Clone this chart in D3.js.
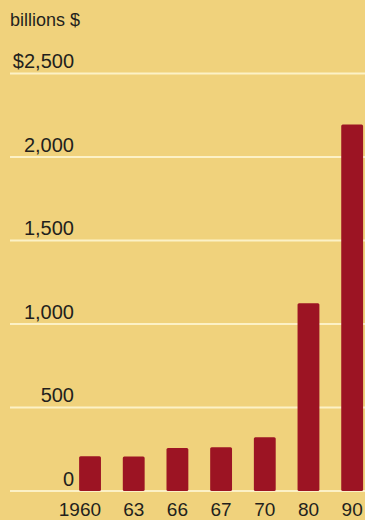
<!DOCTYPE html>
<html>
<head>
<meta charset="utf-8">
<script src="https://cdn.jsdelivr.net/npm/d3@7"></script>
<style>
  html, body { margin: 0; padding: 0; background: #f0d27c; }
  svg { display: block; }
  text { font-family: "Liberation Sans", Arial, Helvetica, sans-serif; fill: #231f1c; }
</style>
</head>
<body>
<div id="chart"></div>
<script>
// Years shown along the bottom and the amount for each, in billions of dollars
const years = ["1960", "63", "66", "67", "70", "80", "90"];
const amounts = [208, 206, 258, 262, 322, 1125, 2195];
const yTicks = [0, 500, 1000, 1500, 2000, 2500];
const yTickLabels = ["0", "500", "1,000", "1,500", "2,000", "$2,500"];
const unitLabel = "billions $";

const W = 365, H = 520;
const svg = d3.select("#chart").append("svg")
  .attr("width", W).attr("height", H);

svg.append("rect").attr("width", W).attr("height", H).attr("fill", "#f0d27c");

const y = d3.scaleLinear().domain([0, 2500]).range([491, 73.5]);
const x = d3.scaleBand().domain(years).range([68.2, 374])
  .paddingInner(0.5).paddingOuter(0.25);

// Unit caption
svg.append("text")
  .attr("x", 10).attr("y", 26)
  .attr("font-size", 18)
  .text(unitLabel);

// Horizontal gridlines with their value labels
const grid = svg.append("g");
grid.selectAll("line").data(yTicks).join("line")
  .attr("x1", 10).attr("x2", W)
  .attr("y1", d => y(d)).attr("y2", d => y(d))
  .attr("stroke", "#fcf1c6").attr("stroke-width", 2.2);

grid.selectAll("text").data(yTicks).join("text")
  .attr("x", 74).attr("y", d => y(d) - 5.5)
  .attr("text-anchor", "end")
  .attr("font-size", 20)
  .text((d, i) => yTickLabels[i]);

// Bars
svg.append("g").selectAll("rect").data(amounts).join("rect")
  .attr("x", (d, i) => x(years[i]))
  .attr("width", x.bandwidth())
  .attr("y", d => y(d))
  .attr("height", d => y(0) - y(d))
  .attr("rx", 1.5)
  .attr("fill", "#9c1423");

// Year labels: two-digit part centred under the bar, century prefix hangs left
svg.append("g").selectAll("text").data(years).join("text")
  .attr("x", d => x(d) + x.bandwidth() / 2)
  .attr("y", 515.5)
  .attr("text-anchor", d => d.length > 2 ? "end" : "middle")
  .attr("dx", d => d.length > 2 ? 11 : 0)
  .attr("font-size", 19)
  .text(d => d);
</script>
</body>
</html>
